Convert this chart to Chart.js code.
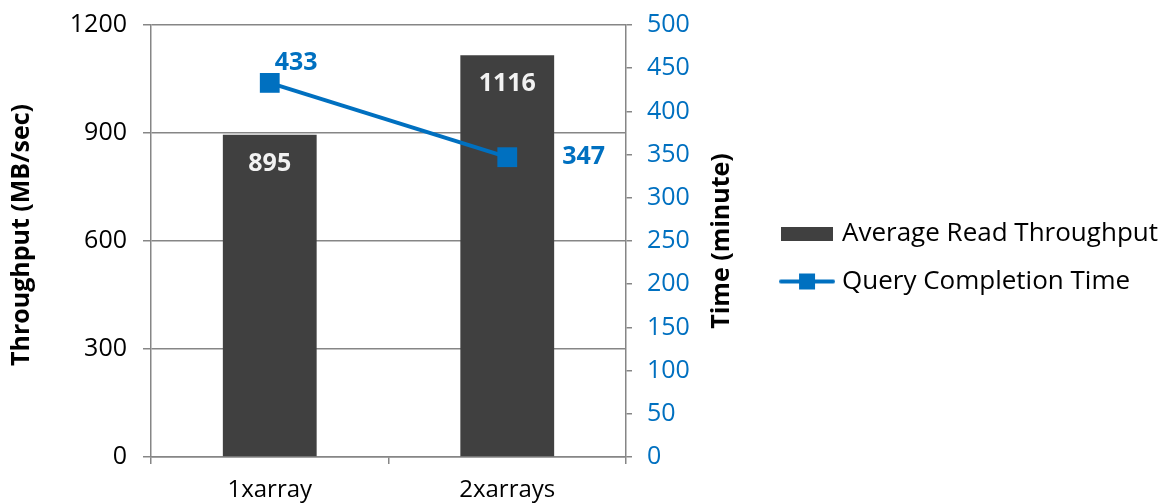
<!DOCTYPE html>
<html>
<head>
<meta charset="utf-8">
<script src="https://cdn.jsdelivr.net/npm/chart.js@4.4.1/dist/chart.umd.min.js"></script>
<style>
  body { margin: 0; background: #fff; }
  #wrap { width: 1168px; height: 504px; }
</style>
</head>
<body>
<div id="wrap"><canvas id="result-chart" width="1168" height="504"></canvas></div>
<script>
// values
var categories = ['1xarray', '2xarrays'];
var throughput = [895, 1116];        // MB/sec, left axis
var queryTime = [433, 347];          // minutes, right axis
var leftTicks = [0, 300, 600, 900, 1200];
var rightTicks = [0, 50, 100, 150, 200, 250, 300, 350, 400, 450, 500];

var BAR = '#404040';
var BLUE = '#0070C0';
var GRID = '#868686';
var FONT = "'Open Sans', sans-serif";

// legend swatches
function makeBarIcon() {
    var c = document.createElement('canvas');
    c.width = 52; c.height = 14;
    var g = c.getContext('2d');
    g.fillStyle = BAR;
    g.fillRect(0, 0, 52, 14);
    return c;
}
function makeLineIcon() {
    var c = document.createElement('canvas');
    c.width = 56; c.height = 20;
    var g = c.getContext('2d');
    g.strokeStyle = BLUE;
    g.lineWidth = 4;
    g.lineCap = 'round';
    g.beginPath();
    g.moveTo(2, 10); g.lineTo(54, 10);
    g.stroke();
    g.fillStyle = BLUE;
    g.fillRect(20, 2, 16, 16);
    return c;
}
var barIcon = makeBarIcon();
var lineIcon = makeLineIcon();

// data labels + axis titles
var labelsPlugin = {
    id: 'labelsPlugin',
    afterLayout(chart) {
        // legend sits a little above the middle in the original
        if (chart.legend) {
            chart.legend.top -= 7;
            chart.legend.bottom -= 7;
        }
    },
    afterDatasetsDraw(chart) {
        var ctx = chart.ctx;
        ctx.save();
        ctx.textBaseline = 'middle';
        ctx.font = "bold 25px " + FONT;

        var barMeta = chart.getDatasetMeta(0);
        ctx.fillStyle = '#F2F2F2';
        ctx.textAlign = 'center';
        barMeta.data.forEach(function (el, i) {
            ctx.fillText(String(throughput[i]), el.x, el.y + 29);
        });

        var lineMeta = chart.getDatasetMeta(1);
        var offs = [[5, -20], [55, 0]];
        ctx.fillStyle = BLUE;
        ctx.textAlign = 'left';
        lineMeta.data.forEach(function (el, i) {
            ctx.fillText(String(queryTime[i]), el.x + offs[i][0], el.y + offs[i][1]);
        });

        // axis titles, both read bottom to top
        var a = chart.chartArea;
        var mid = (a.top + a.bottom) / 2;
        ctx.fillStyle = '#000';
        ctx.textAlign = 'center';
        ctx.font = "bold 25px " + FONT;
        ctx.translate(22, mid - 6);
        ctx.rotate(-Math.PI / 2);
        ctx.fillText('Throughput (MB/sec)', 0, 0);
        ctx.rotate(Math.PI / 2);
        ctx.translate(-22, -(mid - 6));
        ctx.translate(a.right + 96, mid);
        ctx.rotate(-Math.PI / 2);
        ctx.fillText('Time (minute)', 0, 0);
        ctx.restore();
    }
};

var plainNum = function (v) { return String(v); };

var ctx = document.getElementById('result-chart').getContext('2d');
var resultchart = new Chart(ctx, {
    type: 'bar',
    data: {
        labels: categories,
        datasets: [{
            type: 'bar',
            label: 'Average Read Throughput',
            data: throughput,
            backgroundColor: BAR,
            barPercentage: 0.395,
            categoryPercentage: 1,
            yAxisID: 'y',
            order: 1
        }, {
            type: 'line',
            label: 'Query Completion Time',
            data: queryTime,
            borderColor: BLUE,
            backgroundColor: BLUE,
            borderWidth: 4,
            pointStyle: 'rect',
            pointRadius: 14,
            pointHoverRadius: 14,
            pointBorderWidth: 0,
            tension: 0,
            clip: false,
            yAxisID: 'y1',
            order: 0
        }]
    },
    options: {
        responsive: false,
        animation: false,
        layout: { padding: { top: 25, left: 0, right: 0, bottom: 0 } },
        plugins: {
            tooltip: { enabled: false },
            legend: {
                position: 'right',
                maxWidth: 480,
                labels: {
                    usePointStyle: true,
                    pointStyleWidth: 44,
                    padding: 22,
                    color: '#000',
                    font: { family: FONT, size: 26 },
                    generateLabels: function (chart) {
                        var items = Chart.defaults.plugins.legend.labels.generateLabels(chart);
                        items.sort(function (p, q) { return p.datasetIndex - q.datasetIndex; });
                        items.forEach(function (it) {
                            it.pointStyle = it.datasetIndex === 0 ? barIcon : lineIcon;
                        });
                        return items;
                    }
                }
            }
        },
        scales: {
            x: {
                offset: true,
                grid: { offset: true, drawOnChartArea: false, color: GRID, lineWidth: 1.5, tickLength: 7 },
                border: { color: GRID, width: 1.5 },
                ticks: { color: '#000', padding: 12, font: { family: FONT, size: 24 } },
                afterFit: function (s) { s.height = 47; }
            },
            y: {
                position: 'left',
                min: 0,
                max: 1200,
                afterBuildTicks: function (s) { s.ticks = leftTicks.map(function (v) { return { value: v }; }); },
                grid: { color: GRID, lineWidth: 1.5, tickLength: 8 },
                border: { color: GRID, width: 1.5 },
                ticks: { color: '#000', padding: 16, callback: plainNum, font: { family: FONT, size: 25 } },
                afterFit: function (s) { s.width = 151; s.paddingTop = 0; s.paddingBottom = 0; }
            },
            y1: {
                position: 'right',
                min: 0,
                max: 500,
                afterBuildTicks: function (s) { s.ticks = rightTicks.map(function (v) { return { value: v }; }); },
                grid: { drawOnChartArea: false, color: GRID, lineWidth: 1.5, tickLength: 6 },
                border: { color: GRID, width: 1.5 },
                ticks: { color: BLUE, padding: 15, callback: plainNum, font: { family: FONT, size: 25 } },
                afterFit: function (s) {
                    var lw = s.chart.legend ? s.chart.legend.width : 400;
                    s.width = s.chart.width - lw - 626;
                    s.paddingTop = 0;
                    s.paddingBottom = 0;
                }
            }
        }
    },
    plugins: [labelsPlugin]
});
</script>
</body>
</html>
